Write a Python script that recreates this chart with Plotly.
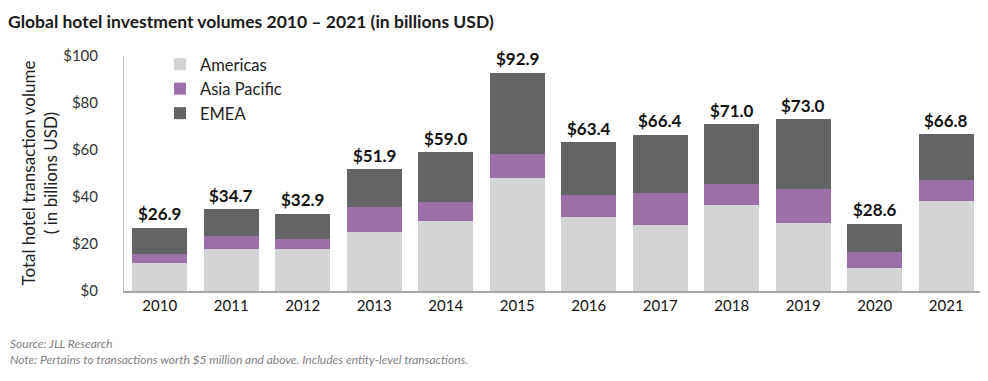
import plotly.graph_objects as go

years = ["2010", "2011", "2012", "2013", "2014", "2015", "2016", "2017", "2018", "2019", "2020", "2021"]
americas = [12.0, 17.9, 18.0, 25.1, 29.6, 48.2, 31.5, 28.0, 36.4, 29.0, 10.0, 38.5]
asia_pacific = [3.9, 5.3, 4.3, 10.6, 8.1, 10.0, 9.3, 13.5, 9.0, 14.4, 6.5, 8.7]
emea = [11.0, 11.5, 10.6, 16.2, 21.3, 34.7, 22.6, 24.9, 25.6, 29.6, 12.1, 19.6]
totals = [26.9, 34.7, 32.9, 51.9, 59.0, 92.9, 63.4, 66.4, 71.0, 73.0, 28.6, 66.8]
y_ticks = [0, 20, 40, 60, 80, 100]
y_tick_labels = ["$0", "$20", "$40", "$60", "$80", "$100"]

FONT = "Lato"
W, H = 980, 373          # page body margin (8px) takes the rest of the 988x381 window
L, R, T, B = 116, 6, 48, 90
PW = W - L - R
PH = H - T - B

fig = go.Figure()
fig.add_trace(go.Bar(x=years, y=americas, name="Americas", marker=dict(color="#d3d4d6", line=dict(width=0))))
fig.add_trace(go.Bar(x=years, y=asia_pacific, name="Asia Pacific", marker=dict(color="#9b6fa8", line=dict(width=0))))
fig.add_trace(go.Bar(x=years, y=emea, name="EMEA", marker=dict(color="#636466", line=dict(width=0))))

# total labels: category index on the x axis, value on the y axis
for i, tot in enumerate(totals):
    fig.add_annotation(
        x=i, y=tot, text=f"<b>${tot:.1f}</b>", showarrow=False,
        xanchor="center", yanchor="middle", yshift=14,
        font=dict(family=FONT, size=17, color="#111111"),
    )

fig.update_layout(
    width=W, height=H,
    margin=dict(l=L, r=R, t=T, b=B, autoexpand=False),
    paper_bgcolor="white", plot_bgcolor="white",
    barmode="stack", bargap=0.23,
    font=dict(family=FONT, size=16, color="#222222"),
    title=dict(
        text="<b>Global hotel investment volumes 2010 – 2021 (in billions USD)</b>",
        x=0.0, xanchor="left", xref="container",
        y=1 - 14 / H, yanchor="middle", yref="container",
        font=dict(family=FONT, size=17.5, color="#1a1a1a"),
    ),
    legend=dict(
        x=(152 - L) / PW, y=1 + 9 / PH, xanchor="left", yanchor="top",
        traceorder="normal", bgcolor="rgba(0,0,0,0)",
        font=dict(family=FONT, size=16.5, color="#222222"),
        itemwidth=30, tracegroupgap=0,
    ),
    xaxis=dict(
        type="category", range=[-0.5, len(years) - 0.5],
        showline=True, linecolor="#a6a6a6", linewidth=1.5,
        ticks="", tickfont=dict(family=FONT, size=15, color="#111111"),
        showgrid=False, automargin=False,
    ),
    yaxis=dict(
        range=[0, 100], tickvals=y_ticks, ticktext=y_tick_labels,
        showline=True, linecolor="#bfbfbf", linewidth=1,
        showgrid=False, zeroline=False, ticks="",
        tickfont=dict(family=FONT, size=15, color="#333333"),
        ticklabelstandoff=22, automargin=False,
    ),
    showlegend=True,
)

fig.add_annotation(
    text="Total hotel transaction volume<br>( in billions USD)",
    xref="paper", yref="paper", x=(31 - L) / PW, y=0.5,
    xanchor="center", yanchor="middle", textangle=-90, showarrow=False,
    font=dict(family=FONT, size=17, color="#222222"),
)
fig.add_annotation(
    text="<i>Source: JLL Research</i><br><i>Note: Pertains to transactions worth $5 million and above. Includes entity-level transactions.</i>",
    xref="paper", yref="paper", x=(0 - L) / PW, y=(H - B - 343.5) / PH,
    xanchor="left", yanchor="middle", align="left", showarrow=False,
    font=dict(family=FONT, size=12, color="#7f7f7f"),
)

fig.write_html("out.html")
